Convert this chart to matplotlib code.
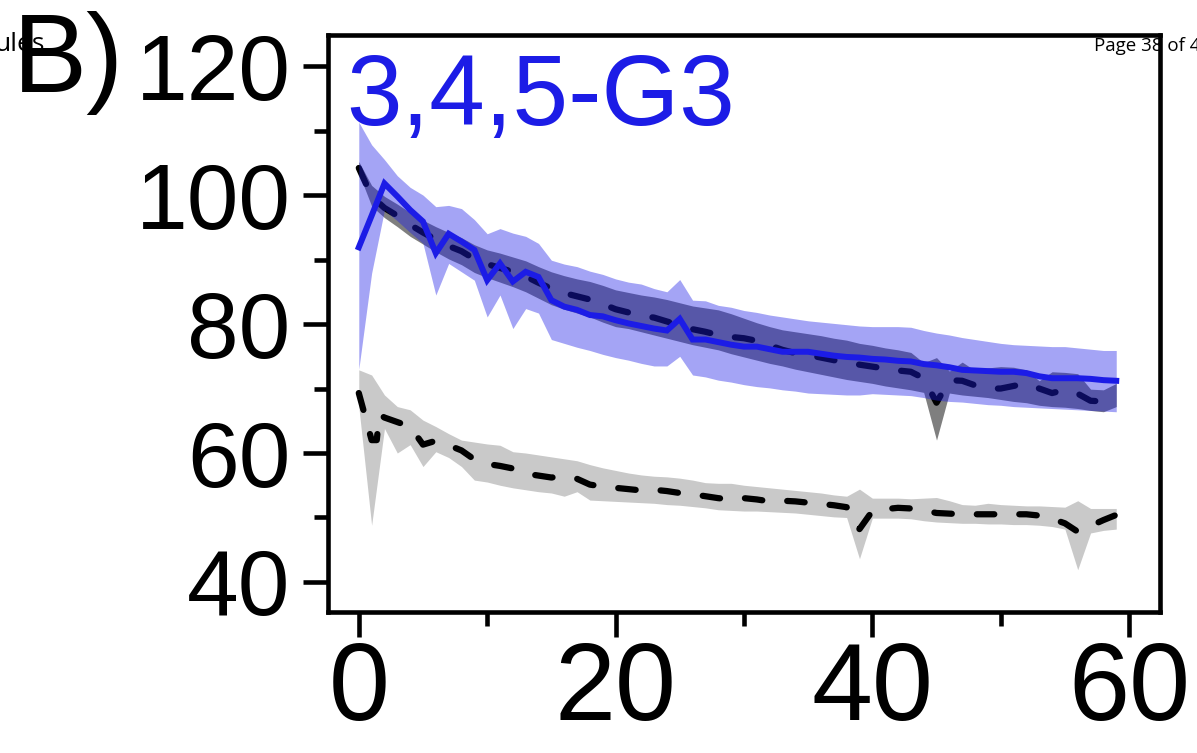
import numpy as np
import matplotlib.pyplot as plt

plt.rcParams['font.family'] = ['Liberation Sans', 'DejaVu Sans']

days = np.arange(60)

# 3,4,5-G3 treated group: mean and spread
g3_mean = [91.9, 96.8, 101.8, 99.8, 97.7, 95.9, 91.0, 94.0, 92.8, 91.5,
           86.8, 89.4, 86.6, 88.1, 87.3, 83.7, 82.7, 82.2, 81.4, 81.2,
           80.6, 80.1, 79.7, 79.3, 79.0, 80.8, 77.6, 77.6, 77.2, 76.8,
           76.5, 76.5, 76.1, 75.7, 75.7, 75.7, 75.4, 75.1, 74.9, 74.8,
           74.6, 74.5, 74.3, 74.2, 73.8, 73.6, 73.3, 72.9, 72.8, 72.7,
           72.6, 72.6, 72.4, 71.9, 71.6, 71.6, 71.6, 71.5, 71.3, 71.2]
g3_hi = [111.3, 107.8, 105.5, 103.0, 101.2, 100.0, 98.2, 98.4, 97.9, 96.2,
         94.0, 94.8, 94.1, 93.6, 92.5, 89.9, 89.3, 88.9, 88.2, 87.7,
         87.0, 86.5, 86.2, 85.5, 85.0, 86.9, 83.7, 83.6, 82.9, 82.6,
         82.1, 81.8, 81.4, 81.1, 80.8, 80.5, 80.3, 80.1, 79.9, 79.7,
         79.6, 79.6, 79.6, 79.5, 79.0, 78.6, 78.3, 77.9, 77.6, 77.3,
         77.0, 76.8, 76.7, 76.6, 76.5, 76.5, 76.3, 76.1, 75.9, 75.9]
g3_lo = [73.0, 87.9, 97.7, 96.0, 94.2, 92.5, 84.5, 89.4, 88.1, 86.8,
         81.1, 84.5, 79.3, 82.4, 81.7, 77.6, 77.0, 76.4, 75.9, 75.3,
         74.8, 74.4, 73.9, 73.5, 73.5, 75.0, 72.1, 71.8, 71.3, 71.0,
         70.6, 70.3, 70.1, 69.8, 69.6, 69.3, 69.2, 69.1, 69.0, 69.0,
         69.2, 69.1, 69.0, 68.9, 68.6, 68.2, 68.0, 67.9, 67.7, 67.5,
         67.4, 67.2, 67.1, 67.0, 66.9, 66.8, 66.7, 66.6, 66.5, 66.4]

# control group
ctrl_mean = [104.2, 99.8, 98.0, 96.8, 95.4, 94.2, 93.1, 92.1, 91.3, 90.1,
             89.3, 88.7, 88.1, 87.4, 86.4, 85.5, 84.8, 84.3, 83.8, 83.1,
             82.3, 81.8, 81.3, 81.0, 80.4, 79.8, 79.2, 78.8, 78.3, 78.0,
             77.8, 77.4, 76.7, 76.0, 75.5, 75.2, 74.8, 74.4, 74.0, 73.7,
             73.4, 73.1, 72.8, 72.6, 71.6, 67.8, 71.3, 71.2, 70.5, 70.0,
             70.0, 70.4, 70.8, 70.0, 69.3, 69.8, 69.2, 68.1, 68.0, 69.0]
ctrl_hi = [105.2, 101.5, 99.8, 98.6, 97.3, 96.1, 95.1, 94.2, 93.4, 92.3,
           91.5, 91.0, 90.4, 89.8, 88.9, 88.1, 87.5, 87.0, 86.6, 86.0,
           85.3, 84.9, 84.5, 84.2, 83.8, 83.3, 82.8, 82.5, 82.2, 81.6,
           80.9, 80.2, 79.6, 79.1, 78.8, 78.5, 78.2, 77.8, 77.5, 77.0,
           76.7, 76.3, 76.0, 75.6, 74.0, 74.8, 72.7, 74.1, 72.8, 73.2,
           73.4, 73.3, 72.9, 71.2, 72.6, 72.5, 72.3, 69.9, 69.8, 70.8]
ctrl_lo = [103.4, 98.3, 96.5, 95.1, 93.6, 92.4, 91.2, 90.1, 89.2, 88.0,
           87.2, 86.5, 85.8, 85.0, 84.0, 83.0, 82.3, 81.7, 81.1, 80.3,
           79.6, 79.3, 78.8, 78.3, 77.8, 77.3, 76.8, 76.4, 76.0, 75.4,
           74.9, 74.4, 73.9, 73.5, 73.0, 72.6, 72.2, 71.8, 71.4, 71.1,
           70.8, 70.4, 70.1, 69.8, 69.4, 62.0, 69.3, 69.0, 68.8, 68.6,
           68.3, 68.0, 67.8, 67.4, 67.2, 67.1, 66.9, 66.6, 66.4, 67.2]

# baseline group (lower curve); the mean has two extra samples after day 1
base_days = np.concatenate([[0, 1, 1.4, 1.6], np.arange(2, 60)])
base_mean = [69.3, 62.0, 62.0, 66.0,
             65.5, 64.8, 64.1, 61.3, 61.9, 61.2, 60.4, 59.0, 58.3, 58.0,
             57.6, 56.8, 56.5, 56.2, 56.4, 56.0, 55.1, 54.8, 54.6, 54.4,
             54.2, 54.3, 54.1, 53.8, 53.6, 53.3, 53.0, 52.8, 53.0, 52.8,
             52.5, 52.6, 52.5, 52.3, 52.1, 51.9, 51.6, 48.2, 51.0, 51.3,
             51.5, 51.4, 51.1, 50.7, 50.6, 50.5, 50.5, 50.5, 50.5, 50.5,
             50.5, 50.3, 49.8, 49.1, 47.8, 48.7, 49.6, 50.4]
base_hi = [72.9, 72.1, 69.0, 67.2, 66.7, 65.1, 64.1, 63.0, 62.0, 61.7,
           61.4, 61.2, 60.2, 60.0, 59.7, 59.4, 59.1, 58.8, 58.2, 57.7,
           57.3, 56.9, 56.6, 56.4, 56.3, 56.1, 55.8, 55.4, 55.3, 55.3,
           55.0, 54.8, 54.6, 54.4, 54.2, 54.0, 53.8, 53.5, 53.3, 54.4,
           53.0, 53.0, 53.0, 52.9, 53.0, 53.1, 52.6, 52.0, 51.9, 52.2,
           52.0, 51.9, 51.8, 51.8, 51.7, 51.6, 52.6, 51.4, 51.4, 51.4]
base_lo = [67.2, 48.8, 63.8, 60.0, 61.3, 57.9, 60.2, 59.3, 57.9, 55.8,
           55.5, 55.0, 54.6, 54.3, 54.0, 53.8, 53.3, 54.0, 52.7, 52.6,
           52.5, 52.4, 52.3, 52.2, 52.0, 51.9, 51.7, 51.5, 51.2, 51.1,
           51.0, 51.0, 50.9, 50.8, 50.7, 50.5, 50.3, 50.1, 50.0, 43.6,
           49.9, 49.9, 49.9, 49.8, 49.5, 49.3, 49.2, 49.1, 49.1, 49.0,
           49.0, 48.9, 48.9, 48.8, 48.6, 48.2, 41.9, 47.6, 48.0, 48.2]

blue = '#1c1ce6'

fig = plt.figure(figsize=(11.97, 7.53), dpi=100)
ax = fig.add_axes([0.274, 0.1873, 0.695, 0.766])
ax.set_facecolor('none')

ax.fill_between(days, base_lo, base_hi, color='#c9c9c9', lw=0, zorder=1)
ax.plot(base_days, base_mean, color='black', lw=4.5, dashes=(2.8, 4.0),
        dash_capstyle='round', zorder=2)

ax.fill_between(days, ctrl_lo, ctrl_hi, color='black', alpha=0.5, lw=0, zorder=3)
ax.plot(days, ctrl_mean, color='black', lw=4.5, dashes=(2.8, 4.0),
        dash_capstyle='round', zorder=4)

ax.fill_between(days, g3_lo, g3_hi, color=blue, alpha=0.4, lw=0, zorder=5)
ax.plot(days, g3_mean, color=blue, lw=4.3, solid_joinstyle='miter', zorder=6)

ax.set_xlim(-2.4, 62.4)
ax.set_ylim(35.35, 124.8)
ax.set_xticks([0, 20, 40, 60])
ax.set_xticks([10, 30, 50], minor=True)
ax.set_yticks([40, 60, 80, 100, 120])
ax.set_yticks([50, 70, 90, 110], minor=True)

for sp in ax.spines.values():
    sp.set_linewidth(3.3)
ax.tick_params(which='major', length=18, width=3.3, color='black')
ax.tick_params(which='minor', length=10, width=3.3, color='black')
ax.tick_params(axis='x', which='major', labelsize=79, pad=3)
ax.tick_params(axis='y', which='major', labelsize=67, pad=9)

fig.text(0.289, 0.834, '3,4,5-G3', color=blue, fontsize=72, va='baseline')
fig.text(0.011, 0.878, 'B)', fontsize=80, va='baseline')

# page header fragments behind the panel
fig.text(-0.004, 0.932, 'ules', fontsize=19, family='Open Sans', va='baseline', zorder=-1)
fig.text(0.914, 0.932, 'Page 38 of 4', fontsize=13.5, family='Open Sans', va='baseline', zorder=-1)

fig.savefig('out.png', dpi=100)
